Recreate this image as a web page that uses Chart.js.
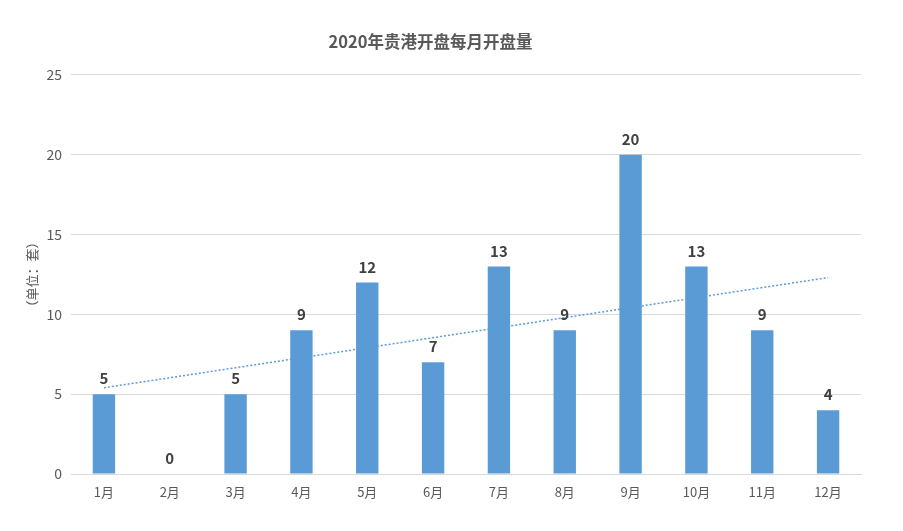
<!DOCTYPE html>
<html>
<head>
<meta charset="utf-8">
<script src="https://cdn.jsdelivr.net/npm/chart.js@4.4.0/dist/chart.umd.min.js"></script>
<style>
  html, body { margin: 0; padding: 0; background: #fff; }
  #wrap { width: 903px; height: 531px; }
</style>
</head>
<body>
<div id="wrap"><canvas id="chart" width="903" height="531"></canvas></div>
<script>
// 数据
const months = ['1月', '2月', '3月', '4月', '5月', '6月', '7月', '8月', '9月', '10月', '11月', '12月'];
const openings = [5, 0, 5, 9, 12, 7, 13, 9, 20, 13, 9, 4];
// 趋势线（从图上读出的起点和终点）
const trend = [5.4, null, null, null, null, null, null, null, null, null, null, 12.3];
const yTicks = [0, 5, 10, 15, 20, 25];

const FONT = '"Noto Sans CJK SC", "Noto Sans", sans-serif';
const BLUE = '#5B9BD5';
const GRID = '#d9d9d9';
const TEXT = '#595959';

// 柱顶数值标签
const barLabels = {
  id: 'barLabels',
  afterDatasetsDraw(chart) {
    const ctx = chart.ctx;
    const meta = chart.getDatasetMeta(0);
    ctx.save();
    ctx.font = 'bold 15px ' + FONT;
    ctx.fillStyle = '#404040';
    ctx.textAlign = 'center';
    ctx.textBaseline = 'bottom';
    meta.data.forEach((bar, i) => {
      ctx.fillText(String(openings[i]), bar.x, bar.y - 8);
    });
    ctx.restore();
  }
};

new Chart(document.getElementById('chart').getContext('2d'), {
  data: {
    labels: months,
    datasets: [
      {
        type: 'bar',
        label: '开盘量',
        data: openings,
        backgroundColor: BLUE,
        borderWidth: 0,
        barPercentage: 0.34,
        categoryPercentage: 1,
        order: 2
      },
      {
        type: 'line',
        label: '趋势线',
        data: trend,
        spanGaps: true,
        borderColor: BLUE,
        borderWidth: 1.5,
        borderDash: [2, 2],
        pointRadius: 0,
        fill: false,
        order: 1
      }
    ]
  },
  options: {
    responsive: false,
    animation: false,
    layout: { padding: { left: 0, right: 42, top: 0, bottom: 0 } },
    plugins: {
      legend: { display: false },
      tooltip: { enabled: false },
      title: {
        display: true,
        text: '2020年贵港开盘每月开盘量',
        color: TEXT,
        font: { family: FONT, size: 16.5, weight: 'bold' },
        padding: { top: 32, bottom: 23 }
      }
    },
    scales: {
      x: {
        grid: { display: false, drawTicks: false },
        border: { color: GRID },
        ticks: { color: TEXT, font: { family: FONT, size: 13 }, padding: 10 },
        afterFit: (s) => { s.height = 57; }
      },
      y: {
        min: 0,
        max: 25,
        afterBuildTicks: (s) => { s.ticks = yTicks.map(v => ({ value: v })); },
        grid: { color: GRID, drawTicks: false },
        border: { display: false },
        ticks: { color: TEXT, font: { family: FONT, size: 14 }, padding: 9 },
        title: {
          display: true,
          text: '（单位：套）',
          color: TEXT,
          font: { family: FONT, size: 13 },
          padding: { top: 24, bottom: 0 }
        },
        afterFit: (s) => { s.width = 71; }
      }
    }
  },
  plugins: [barLabels]
});
</script>
</body>
</html>
